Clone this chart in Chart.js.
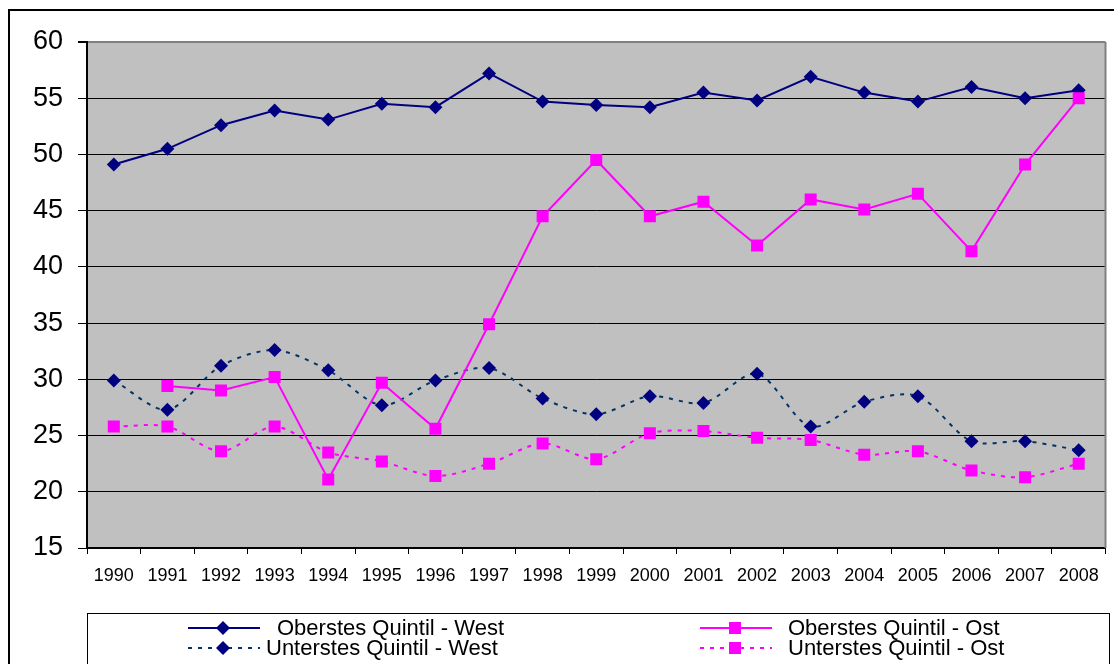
<!DOCTYPE html>
<html>
<head>
<meta charset="utf-8">
<script src="https://cdn.jsdelivr.net/npm/chart.js@4/dist/chart.umd.min.js"></script>
<style>
  html, body { margin: 0; padding: 0; background: #fff; }
  #wrap { width: 1114px; height: 664px; position: relative; }
</style>
</head>
<body>
<div id="wrap"><canvas id="chart" width="1114" height="664"></canvas></div>
<script>
// data
var years = ['1990','1991','1992','1993','1994','1995','1996','1997','1998','1999',
             '2000','2001','2002','2003','2004','2005','2006','2007','2008'];
var obersWest = [49.1, 50.5, 52.6, 53.9, 53.1, 54.5, 54.2, 57.2, 54.7, 54.4,
                 54.2, 55.5, 54.8, 56.9, 55.5, 54.7, 56.0, 55.0, 55.7];
var obersOst  = [null, 29.4, 29.0, 30.2, 21.1, 29.7, 25.6, 34.9, 44.5, 49.5,
                 44.5, 45.8, 41.9, 46.0, 45.1, 46.5, 41.4, 49.1, 55.0];
var untersWest = [29.9, 27.3, 31.2, 32.6, 30.8, 27.7, 29.9, 31.0, 28.3, 26.9,
                  28.5, 27.9, 30.5, 25.8, 28.0, 28.5, 24.5, 24.5, 23.7];
var untersOst  = [25.8, 25.8, 23.6, 25.8, 23.5, 22.7, 21.4, 22.5, 24.3, 22.9,
                  25.2, 25.4, 24.8, 24.6, 23.3, 23.6, 21.9, 21.3, 22.5];
var yTicks = [15, 20, 25, 30, 35, 40, 45, 50, 55, 60];

var FONT = "Arial, 'Liberation Sans', sans-serif";
var NAVY = '#000080';
var MAGENTA = '#FF00FF';

// gray plot background, frame and the legend box
var framePlugin = {
    id: 'frame',
    beforeDraw: function(chart) {
        var ctx = chart.ctx, a = chart.chartArea;
        ctx.save();
        ctx.fillStyle = '#fff';
        ctx.fillRect(0, 0, chart.width, chart.height);
        ctx.strokeStyle = '#000';
        ctx.lineWidth = 2;
        ctx.strokeRect(9, 10, 1300, 1000);
        ctx.fillStyle = '#C0C0C0';
        ctx.fillRect(a.left, a.top, a.right - a.left, a.bottom - a.top);
        ctx.restore();
    },
    afterDatasetsDraw: function(chart) {
        var ctx = chart.ctx, a = chart.chartArea;
        ctx.save();
        // right border of plot area
        ctx.strokeStyle = '#808080';
        ctx.lineWidth = 2;
        ctx.beginPath();
        ctx.moveTo(a.right, a.top);
        ctx.lineTo(a.right, a.bottom);
        ctx.stroke();

        // legend
        ctx.strokeStyle = '#000';
        ctx.lineWidth = 1;
        ctx.strokeRect(87.5, 613.5, 1022, 100);
        var items = [
            {ds: 0, lx: 188, tx: 277, y: 628},
            {ds: 1, lx: 700, tx: 788, y: 628},
            {ds: 2, lx: 188, tx: 266, y: 648},
            {ds: 3, lx: 700, tx: 788, y: 648}
        ];
        items.forEach(function(it) {
            var d = chart.data.datasets[it.ds];
            ctx.strokeStyle = d.borderColor;
            ctx.lineWidth = d.borderWidth;
            ctx.setLineDash(d.borderDash || []);
            ctx.beginPath();
            ctx.moveTo(it.lx, it.y);
            ctx.lineTo(it.lx + 72, it.y);
            ctx.stroke();
            ctx.setLineDash([]);
            var cx = it.lx + 35;
            ctx.fillStyle = d.pointBackgroundColor;
            ctx.beginPath();
            if (d.pointStyle === 'rectRot') {
                var r = d.pointRadius;
                ctx.moveTo(cx, it.y - r);
                ctx.lineTo(cx + r, it.y);
                ctx.lineTo(cx, it.y + r);
                ctx.lineTo(cx - r, it.y);
                ctx.closePath();
            } else {
                var s = d.pointRadius * Math.SQRT1_2;
                ctx.rect(cx - s, it.y - s, 2 * s, 2 * s);
            }
            ctx.fill();
            ctx.fillStyle = '#000';
            ctx.font = '22px ' + FONT;
            ctx.textBaseline = 'middle';
            ctx.fillText(d.label, it.tx, it.y + 1);
        });
        ctx.restore();
    }
};

var ctx = document.getElementById('chart').getContext('2d');
var chart = new Chart(ctx, {
    type: 'line',
    data: {
        labels: years,
        datasets: [
            {
                label: 'Oberstes Quintil - West',
                data: obersWest,
                borderColor: NAVY,
                borderWidth: 2,
                pointStyle: 'rectRot',
                pointRadius: 7,
                pointBackgroundColor: NAVY,
                pointBorderColor: NAVY,
                pointBorderWidth: 0,
                tension: 0,
                order: 1
            },
            {
                label: 'Oberstes Quintil - Ost',
                data: obersOst,
                borderColor: MAGENTA,
                borderWidth: 2,
                pointStyle: 'rect',
                pointRadius: 8.5,
                pointBackgroundColor: MAGENTA,
                pointBorderColor: MAGENTA,
                pointBorderWidth: 0,
                tension: 0,
                order: 0
            },
            {
                label: 'Unterstes Quintil - West',
                data: untersWest,
                borderColor: '#003366',
                borderWidth: 2,
                borderDash: [4, 6],
                pointStyle: 'rectRot',
                pointRadius: 7,
                pointBackgroundColor: NAVY,
                pointBorderColor: NAVY,
                pointBorderWidth: 0,
                tension: 0.3,
                order: 3
            },
            {
                label: 'Unterstes Quintil - Ost',
                data: untersOst,
                borderColor: MAGENTA,
                borderWidth: 2,
                borderDash: [4, 6],
                pointStyle: 'rect',
                pointRadius: 8.5,
                pointBackgroundColor: MAGENTA,
                pointBorderColor: MAGENTA,
                pointBorderWidth: 0,
                tension: 0.3,
                order: 2
            }
        ]
    },
    options: {
        responsive: false,
        animation: false,
        layout: { padding: { left: 0, top: 42, right: 8, bottom: 0 } },
        plugins: {
            legend: { display: false },
            tooltip: { enabled: false }
        },
        scales: {
            x: {
                offset: true,
                grid: {
                    offset: true,
                    drawOnChartArea: false,
                    drawTicks: true,
                    tickLength: 6,
                    color: '#000'
                },
                border: { color: '#000', width: 2 },
                ticks: {
                    autoSkip: false,
                    maxRotation: 0,
                    padding: 11,
                    color: '#000',
                    font: { family: FONT, size: 18 }
                },
                afterFit: function(scale) { scale.height = 116; }
            },
            y: {
                min: 15,
                max: 60,
                afterBuildTicks: function(scale) {
                    scale.ticks = yTicks.map(function(v) { return {value: v}; });
                },
                grid: {
                    color: function(c) { return c.tick && c.tick.value === 60 ? '#808080' : '#000'; },
                    lineWidth: function(c) { return c.tick && c.tick.value === 60 ? 2 : 1; },
                    tickColor: '#000',
                    tickLength: 9
                },
                border: { color: '#000', width: 2 },
                ticks: {
                    padding: 15,
                    color: '#000',
                    font: { family: FONT, size: 27 }
                },
                afterFit: function(scale) { scale.width = 87; }
            }
        }
    },
    plugins: [framePlugin]
});
</script>
</body>
</html>
